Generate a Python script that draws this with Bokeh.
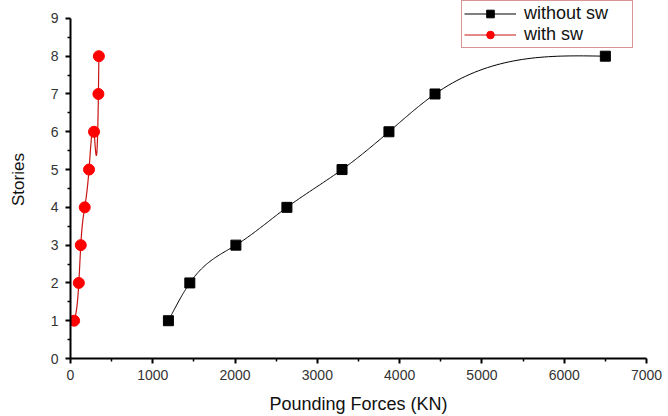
import numpy as np
from bokeh.plotting import figure
from bokeh.models import Range1d, Legend, LegendItem, FixedTicker
from bokeh.embed import file_html
from bokeh.resources import INLINE

stories = [1, 2, 3, 4, 5, 6, 7, 8]
without_sw = [1190, 1450, 2010, 2630, 3300, 3870, 4430, 6500]
with_sw = [44, 101, 125, 173, 225, 286, 339, 345]
x_ticks = [0, 1000, 2000, 3000, 4000, 5000, 6000, 7000]
y_ticks = [0, 1, 2, 3, 4, 5, 6, 7, 8, 9]


def natural_spline(x, y, n=40):
    x = np.asarray(x, float)
    y = np.asarray(y, float)
    k = len(x)
    h = np.diff(x)
    A = np.zeros((k, k))
    b = np.zeros(k)
    A[0, 0] = 1
    A[-1, -1] = 1
    for i in range(1, k - 1):
        A[i, i - 1] = h[i - 1]
        A[i, i] = 2 * (h[i - 1] + h[i])
        A[i, i + 1] = h[i]
        b[i] = 6 * ((y[i + 1] - y[i]) / h[i] - (y[i] - y[i - 1]) / h[i - 1])
    M = np.linalg.solve(A, b)
    xs, ys = [], []
    for i in range(k - 1):
        t = np.linspace(x[i], x[i + 1], n)
        a = x[i + 1] - t
        c = t - x[i]
        s = (M[i] * a ** 3 + M[i + 1] * c ** 3) / (6 * h[i]) \
            + (y[i] / h[i] - M[i] * h[i] / 6) * a \
            + (y[i + 1] / h[i] - M[i + 1] * h[i] / 6) * c
        xs.extend(t)
        ys.extend(s)
    return xs, ys


# frame top extends 18px above y=9 so the legend box can sit there, as in the reference
p = figure(width=668, height=416, output_backend="svg", toolbar_location=None,
           x_range=Range1d(0, 7000), y_range=Range1d(0, 9 + 18 / 38),
           min_border_left=70, min_border_right=22, min_border_top=0, min_border_bottom=56)
p.outline_line_color = None
p.xgrid.visible = False
p.ygrid.visible = False

bx, by = natural_spline(without_sw, stories)
rx, ry = natural_spline(with_sw, stories)

l1 = p.line(bx, by, line_color="black", line_width=1)
m1 = p.scatter(without_sw, stories, marker="square", size=10, fill_color="black", line_color="black")
l2 = p.line(rx, ry, line_color="#c81414", line_width=1.2)
m2 = p.scatter(with_sw, stories, marker="circle", size=11, fill_color="#ff0000", line_color="#ff0000")

for ax in (p.xaxis[0], p.yaxis[0]):
    ax.axis_line_width = 2
    ax.axis_line_color = "black"
    ax.major_tick_line_width = 2
    ax.minor_tick_line_width = 1.5
    ax.major_tick_out = 5
    ax.major_tick_in = 0
    ax.minor_tick_out = 3
    ax.minor_tick_in = 0
    ax.major_label_text_font = "Liberation Sans"
    ax.major_label_text_font_size = "14px"
    ax.major_label_text_color = "#333333"
    ax.axis_label_text_font = "Liberation Sans"
    ax.axis_label_text_font_style = "normal"
    ax.axis_label_text_color = "#111111"

p.yaxis.bounds = (0, 9)
p.xaxis.ticker = FixedTicker(ticks=x_ticks, minor_ticks=list(range(500, 7000, 1000)))
p.yaxis.ticker = FixedTicker(ticks=y_ticks, minor_ticks=[v + 0.5 for v in range(9)])
p.xaxis.axis_label = "Pounding Forces (KN)"
p.yaxis.axis_label = "Stories"
p.xaxis.axis_label_text_font_size = "18px"
p.yaxis.axis_label_text_font_size = "17px"
p.xaxis.axis_label_standoff = 11
p.yaxis.axis_label_standoff = 20
p.xaxis.major_label_standoff = 6
p.yaxis.major_label_standoff = 7

legend = Legend(items=[LegendItem(label="without sw", renderers=[l1, m1]),
                       LegendItem(label="with sw", renderers=[l2, m2])],
                location=(391, 310))
legend.border_line_color = "#b03030"
legend.border_line_width = 1
legend.label_text_font = "Liberation Sans"
legend.label_text_font_size = "18px"
legend.label_text_color = "#111111"
legend.glyph_width = 52
legend.label_standoff = 8
legend.label_width = 106
legend.spacing = 0
legend.padding = 2
legend.margin = 0
legend.label_height = 19
legend.glyph_height = 19
p.add_layout(legend)

open("out.html", "w").write(file_html(p, INLINE))
